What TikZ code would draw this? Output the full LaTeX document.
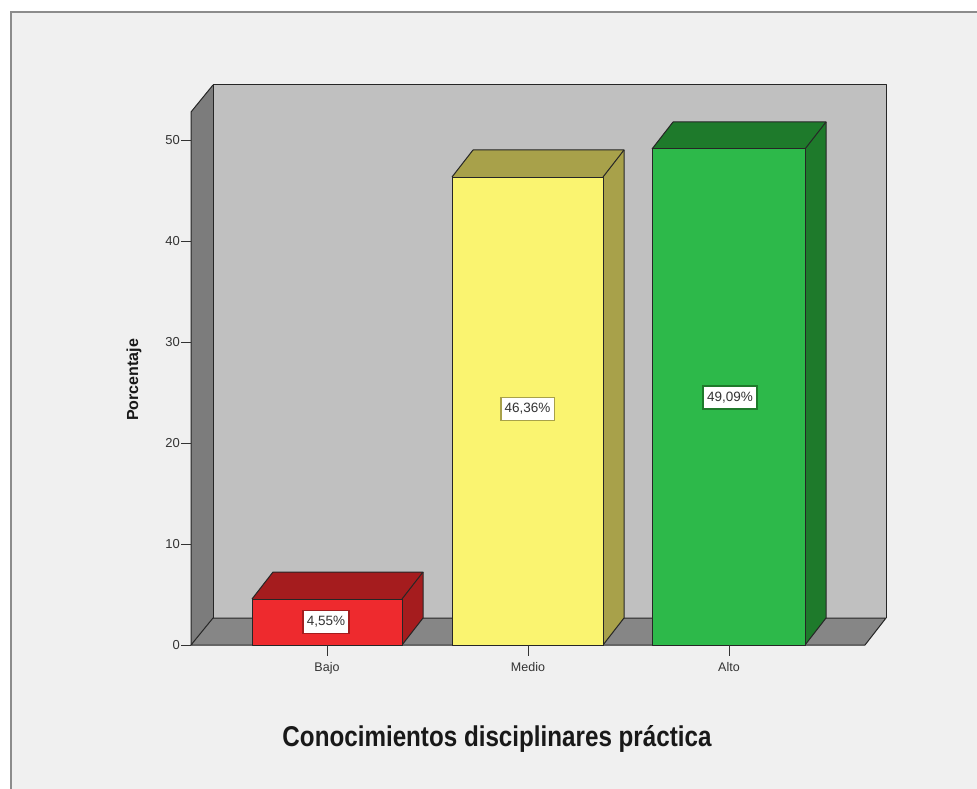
\documentclass[tikz,border=0pt]{standalone}
\usepackage{fontspec}
\setmainfont{Liberation Sans}
\usepackage{graphicx}
\definecolor{bgin}{HTML}{F0F0F0}
\definecolor{framec}{HTML}{8C8C8C}
\definecolor{backwall}{HTML}{C0C0C0}
\definecolor{sidewall}{HTML}{7C7C7C}
\definecolor{floorc}{HTML}{868686}
\definecolor{redf}{HTML}{EE2A2E}
\definecolor{reds}{HTML}{A51C1E}
\definecolor{yelf}{HTML}{FAF470}
\definecolor{yels}{HTML}{A8A14A}
\definecolor{grnf}{HTML}{2DB94A}
\definecolor{grns}{HTML}{1E7A2B}
\definecolor{txt}{HTML}{333333}
\tikzset{
  edge/.style={draw=black!85, line width=1pt, line join=round},
  ticklab/.style={anchor=east, inner sep=0pt, text=txt, font=\fontsize{13}{13}\selectfont},
  catlab/.style={anchor=north, inner sep=0pt, text=txt, font=\fontsize{12.5}{12.5}\selectfont},
  vallab/.style={fill=white, line width=1.8pt, inner xsep=4pt, inner ysep=6pt, text=txt, font=\fontsize{13.5}{13.5}\selectfont},
}
\newcommand{\mybar}[6]{%
  % #1 x0, #2 x1, #3 ytop, #4 front colour, #5 side colour, #6 name
  \fill[#5] (#1,#3) -- ++(21,-27) -- (#2+21,#3-27) -- (#2,#3) -- cycle;
  \fill[#5] (#2,#3) -- ++(21,-27) -- (#2+21,618) -- (#2,645) -- cycle;
  \draw[edge] (#1,#3) -- ++(21,-27) -- (#2+21,#3-27) -- (#2,#3);
  \draw[edge] (#2+21,#3-27) -- (#2+21,618) -- (#2,645);
  \fill[#4] (#1,645) rectangle (#2,#3);
  \draw[edge] (#1,645) rectangle (#2,#3);
  \coordinate (#6) at ({(#1+#2)/2},{(#3+645)/2});
}
\begin{document}
\begin{tikzpicture}[x=1pt,y=-1pt]
\useasboundingbox (0,0) rectangle (977,789);
\fill[white] (0,0) rectangle (977,789);
\fill[bgin] (11,12) rectangle (985,800);
\draw[framec, line width=2pt] (11,800) -- (11,12) -- (985,12);
% walls
\fill[backwall] (213,85) rectangle (886,618);
\fill[sidewall] (191,112) -- (213,85) -- (213,618) -- (191,645) -- cycle;
\fill[floorc] (191,645) -- (213,618) -- (886,618) -- (865,645) -- cycle;
\draw[edge] (213,618) -- (213,85) -- (886,85) -- (886,618);
\draw[edge] (191,645) -- (191,112) -- (213,85);
\draw[edge] (191,645) -- (213,618) -- (886,618) -- (865,645) -- cycle;
% y ticks
\foreach \v in {0,10,20,30,40,50} {
  \pgfmathsetmacro{\yy}{645-10.1*\v}
  \draw[black!80, line width=0.9pt] (181,\yy) -- (191,\yy);
  \node[ticklab] (t\v) at (180,\yy) {\v};
}
\node[rotate=90, font=\fontsize{16}{16}\selectfont\bfseries, text=black!90] (ylab) at (134,380) {Porcentaje};
% bars
\mybar{252}{402}{599}{redf}{reds}{cb}
\mybar{452}{603}{177}{yelf}{yels}{cm}
\mybar{652}{805}{149}{grnf}{grns}{ca}
\node[vallab, draw=reds] (vb) at (326,622) {4,55\%};
\node[vallab, draw=yels] (vm) at (527.5,409) {46,36\%};
\node[vallab, draw=grns] (va) at (730,397.5) {49,09\%};
% category ticks and labels
\foreach \x/\n/\l in {327/b/Bajo,528/m/Medio,729/a/Alto} {
  \draw[black!80, line width=0.9pt] (\x,645) -- (\x,656);
  \node[catlab] (l\n) at (\x,662) {\l};
}
\node[text=black!90, inner sep=0pt] (title) at (497,739) {\resizebox{429pt}{21pt}{\fontsize{26}{26}\selectfont\bfseries Conocimientos disciplinares práctica}};
\end{tikzpicture}
\end{document}
